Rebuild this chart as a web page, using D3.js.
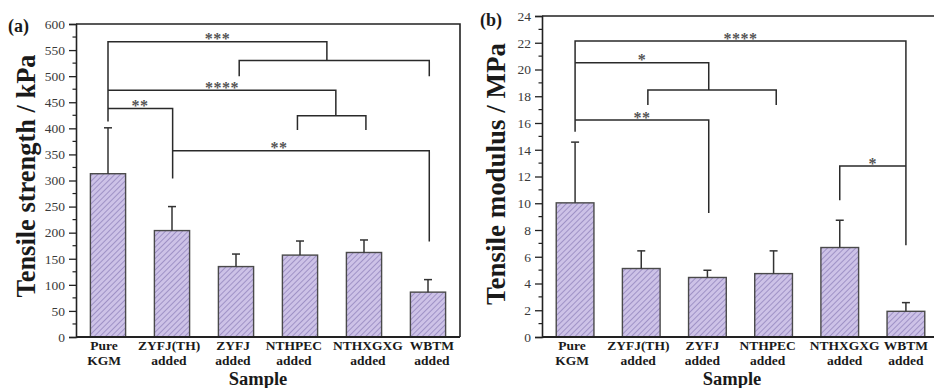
<!DOCTYPE html>
<html>
<head>
<meta charset="utf-8">
<script src="https://cdn.jsdelivr.net/npm/d3@7"></script>
<style>
  html, body { margin: 0; padding: 0; background: #fff; }
  svg { display: block; font-family: 'Liberation Serif', 'Times New Roman', serif; }
</style>
</head>
<body>
<svg id="chart" width="934" height="388"></svg>
<script>
// categories (two-line labels)
const categories = [
  ['Pure', 'KGM'],
  ['ZYFJ(TH)', 'added'],
  ['ZYFJ', 'added'],
  ['NTHPEC', 'added'],
  ['NTHXGXG', 'added'],
  ['WBTM', 'added']
];

// (a) tensile strength, kPa
const strengthMean = [313, 204, 135, 157, 162, 86];
const strengthErr = [88, 46, 24, 27, 24, 24];
// significance brackets: polylines of [category index, value]
const strengthBrackets = [
  [[0, 413], [0, 566], [3.42, 566], [3.42, 530]],
  [[2.05, 500], [2.05, 530], [5.02, 530], [5.02, 500]],
  [[0, 473], [3.56, 473], [3.56, 424]],
  [[2.96, 397], [2.96, 424], [4.03, 424], [4.03, 397]],
  [[0, 438], [1.01, 438], [1.01, 304]],
  [[1.01, 357], [5.02, 357], [5.02, 183]]
];
const strengthStars = [['***', 1.71, 566], ['****', 1.78, 473], ['**', 0.5, 438], ['**', 2.67, 357]];
const strengthTicks = d3.range(0, 601, 50);
const strengthMinor = d3.range(25, 600, 50);

// (b) tensile modulus, MPa
const modulusMean = [10.03, 5.12, 4.45, 4.74, 6.69, 1.92];
const modulusErr = [4.54, 1.32, 0.54, 1.70, 2.04, 0.65];
const modulusBrackets = [
  [[0, 15.35], [0, 22.13], [5, 22.13], [5, 6.86]],
  [[0, 20.5], [2.02, 20.5], [2.02, 18.47]],
  [[1.1, 17.35], [1.1, 18.47], [3.04, 18.47], [3.04, 17.35]],
  [[0, 16.22], [2.02, 16.22], [2.02, 9.28]],
  [[4, 10.23], [4, 12.78], [5, 12.78]]
];
const modulusStars = [['****', 2.5, 22.13], ['*', 1.01, 20.5], ['**', 1.01, 16.22], ['*', 4.5, 12.78]];
const modulusTicks = d3.range(0, 25, 2);
const modulusMinor = d3.range(1, 24, 2);

const svg = d3.select('#chart');

// hatch fill
const defs = svg.append('defs');
const pat = defs.append('pattern').attr('id', 'hatch')
  .attr('patternUnits', 'userSpaceOnUse').attr('width', 4).attr('height', 4)
  .attr('patternTransform', 'rotate(45)');
pat.append('rect').attr('width', 4).attr('height', 4).attr('fill', '#cdc2e7');
pat.append('line').attr('x1', 0).attr('y1', 0).attr('x2', 0).attr('y2', 4)
  .attr('stroke', '#978ac0').attr('stroke-width', 1.7);

function panel(o) {
  const g = svg.append('g');
  const x = d3.scaleBand().domain(d3.range(categories.length))
    .range([o.left, o.right]).paddingInner(o.pad).paddingOuter(o.pad / 2);
  const y = d3.scaleLinear().domain([0, o.max]).range([o.bottom, o.top]);
  const xi = d3.scaleLinear().domain([0, categories.length - 1])
    .range([x(0) + x.bandwidth() / 2, x(categories.length - 1) + x.bandwidth() / 2]);

  // bars
  g.selectAll('.bar').data(o.mean).enter().append('rect')
    .attr('x', (d, i) => x(i)).attr('width', x.bandwidth())
    .attr('y', d => y(d)).attr('height', d => y(0) - y(d))
    .attr('fill', 'url(#hatch)').attr('stroke', '#4a4a4a').attr('stroke-width', 1.4);

  // upper error bars
  const eb = g.append('g').attr('stroke', '#333').attr('stroke-width', 1.5);
  o.mean.forEach((m, i) => {
    const cx = xi(i);
    eb.append('line').attr('x1', cx).attr('x2', cx).attr('y1', y(m)).attr('y2', y(m + o.err[i]));
    eb.append('line').attr('x1', cx - 4).attr('x2', cx + 4).attr('y1', y(m + o.err[i])).attr('y2', y(m + o.err[i]));
  });

  // significance brackets
  const line = d3.line().x(d => xi(d[0])).y(d => y(d[1]));
  g.selectAll('.br').data(o.brackets).enter().append('path')
    .attr('d', line).attr('fill', 'none').attr('stroke', '#2a2a2a').attr('stroke-width', 1.5);
  g.selectAll('.st').data(o.stars).enter().append('text')
    .attr('x', d => xi(d[1])).attr('y', d => y(d[2]) + 2.5)
    .attr('text-anchor', 'middle').attr('fill', '#555')
    .style('font-size', '16px').style('font-weight', 'bold').style('letter-spacing', '0.5px')
    .text(d => d[0]);

  // frame
  g.append('path')
    .attr('d', `M${o.left},${o.top}H${o.right}V${o.bottom}`)
    .attr('fill', 'none').attr('stroke', '#222').attr('stroke-width', 1.6);

  // y axis
  const ay = g.append('g').attr('transform', `translate(${o.left},0)`)
    .call(d3.axisLeft(y).tickValues(o.ticks).tickSize(7).tickPadding(4));
  ay.select('.domain').attr('stroke', '#222').attr('stroke-width', 1.6);
  ay.selectAll('.tick line').attr('stroke', '#222').attr('stroke-width', 1.3);
  ay.selectAll('text').attr('fill', '#3a3a3a').style('font-size', '13.5px')
    .style('font-family', "'Liberation Serif', serif");
  g.append('g').selectAll('line').data(o.minor).enter().append('line')
    .attr('x1', o.left - 3.5).attr('x2', o.left).attr('y1', d => y(d)).attr('y2', d => y(d))
    .attr('stroke', '#222').attr('stroke-width', 1.2);

  // x axis
  g.append('line').attr('x1', o.left).attr('x2', o.right).attr('y1', o.bottom).attr('y2', o.bottom)
    .attr('stroke', '#222').attr('stroke-width', 1.8);
  const xl = g.selectAll('.xl').data(categories).enter().append('text')
    .attr('text-anchor', 'middle').attr('fill', '#1a1a1a')
    .style('font-size', '13.5px').style('font-weight', 'bold');
  xl.append('tspan').attr('x', (d, i) => xi(i) + o.nudge[i]).attr('y', o.bottom + 13).text(d => d[0]);
  xl.append('tspan').attr('x', (d, i) => xi(i) + o.nudge[i]).attr('y', o.bottom + 28).text(d => d[1]);

  g.append('text').attr('x', o.sampleX).attr('y', 385).attr('text-anchor', 'middle')
    .attr('fill', '#1a1a1a').style('font-size', '18.5px').style('font-weight', 'bold').text('Sample');

  // y title
  g.append('text')
    .attr('transform', `translate(${o.titleX},${o.titleY}) rotate(-90)`)
    .attr('text-anchor', 'middle').attr('fill', '#1a1a1a')
    .attr('textLength', o.titleLen).attr('lengthAdjust', 'spacingAndGlyphs')
    .style('font-size', '28px').style('font-weight', 'bold').text(o.title);

  g.append('text').attr('x', o.tagX).attr('y', o.tagY).attr('fill', '#1a1a1a')
    .style('font-size', '18px').style('font-weight', 'bold').text(o.tag);
}

panel({
  left: 76, right: 460, top: 24, bottom: 337, pad: 0.45, max: 600,
  mean: strengthMean, err: strengthErr, brackets: strengthBrackets, stars: strengthStars,
  ticks: strengthTicks, minor: strengthMinor, nudge: [-4, -3, -3, -6, 4, 4],
  title: 'Tensile strength / kPa', titleX: 35, titleY: 176, titleLen: 243,
  tag: '(a)', tagX: 8, tagY: 32, sampleX: 258
});
panel({
  left: 542, right: 939, top: 16, bottom: 337, pad: 0.43, max: 24,
  mean: modulusMean, err: modulusErr, brackets: modulusBrackets, stars: modulusStars,
  ticks: modulusTicks, minor: modulusMinor, nudge: [-3, -3, -5, -6, 5, 0],
  title: 'Tensile modulus / MPa', titleX: 505, titleY: 174, titleLen: 262,
  tag: '(b)', tagX: 480, tagY: 26, sampleX: 732
});
</script>
</body>
</html>
